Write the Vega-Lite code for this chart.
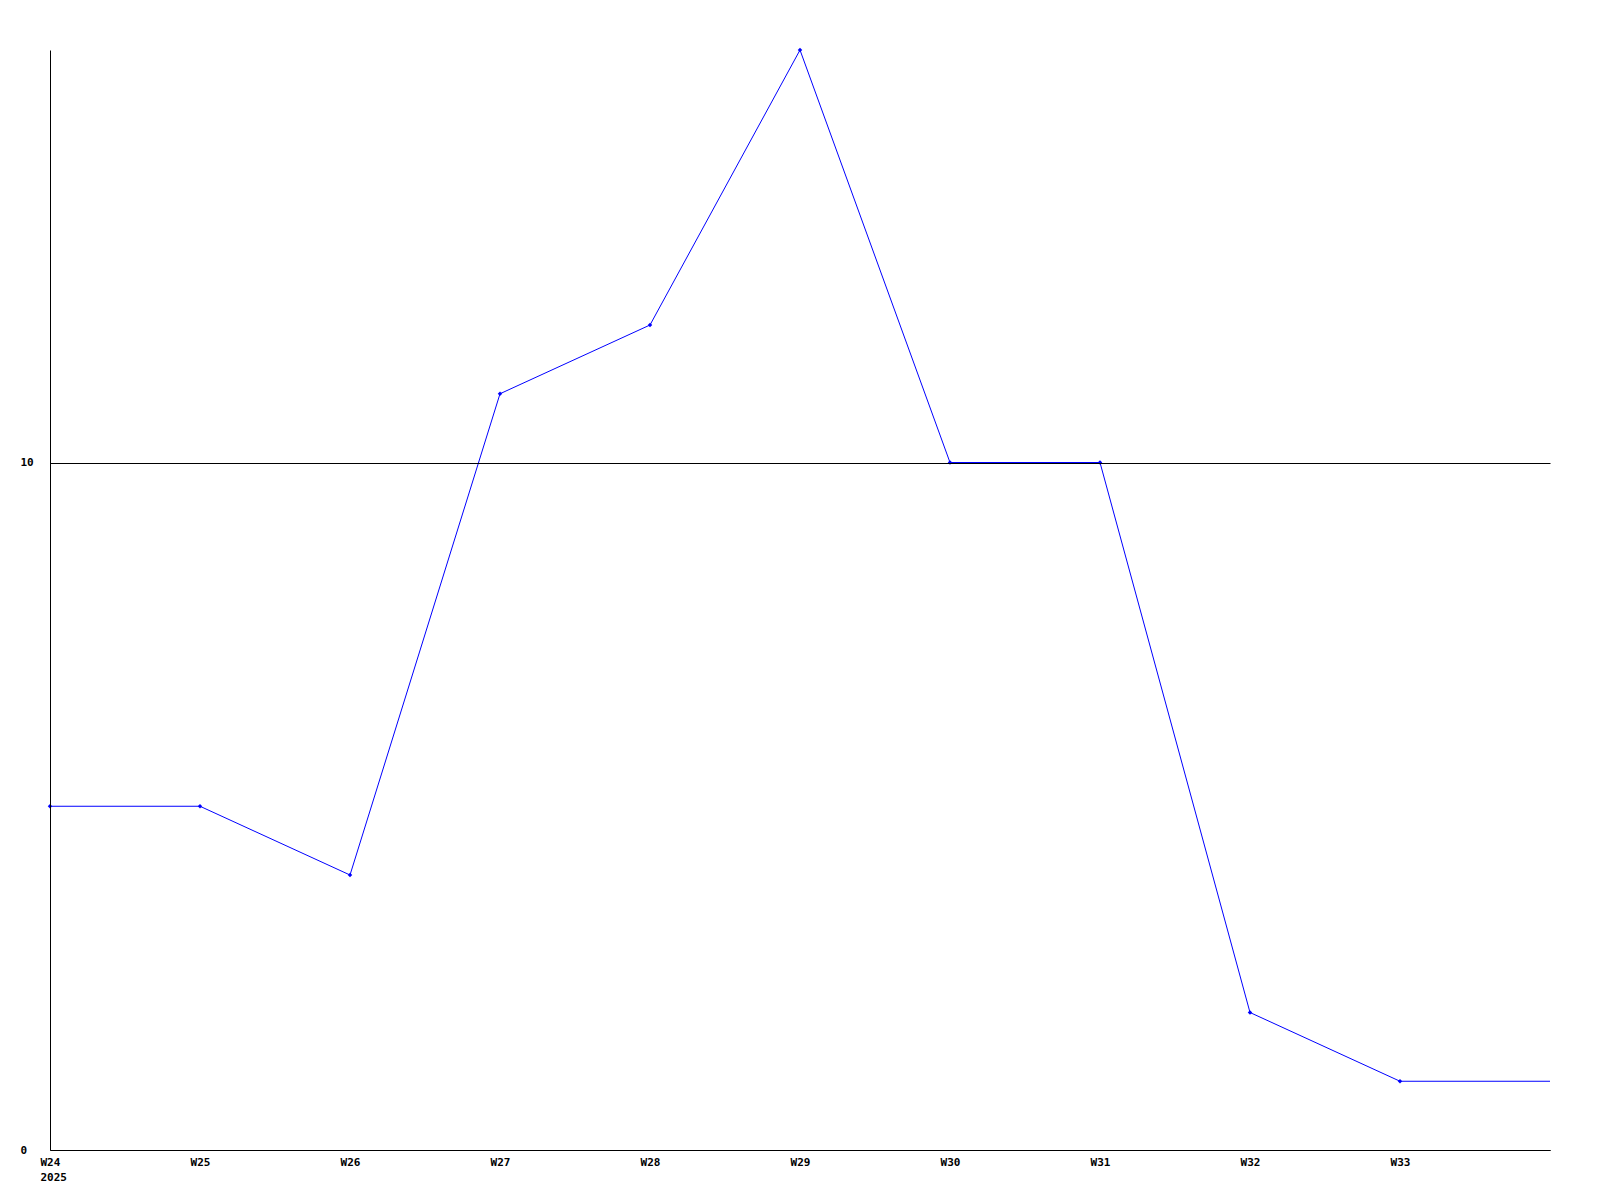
{
  "$schema": "https://vega.github.io/schema/vega-lite/v6.json",
  "width": 1500,
  "height": 1100,
  "autosize": {"type": "none"},
  "padding": {"left": 50, "top": 50, "right": 50, "bottom": 50},
  "background": "white",
  "config": {
    "view": {"stroke": null},
    "axis": {
      "labelFont": "DejaVu Sans Mono",
      "labelFontWeight": "bold",
      "labelFontSize": 11,
      "labelColor": "black",
      "domainColor": "black",
      "domainWidth": 1,
      "ticks": false,
      "title": null
    }
  },
  "data": {
    "values": [
      {"week": 24, "value": 5},
      {"week": 25, "value": 5},
      {"week": 26, "value": 4},
      {"week": 27, "value": 11},
      {"week": 28, "value": 12},
      {"week": 29, "value": 16},
      {"week": 30, "value": 10},
      {"week": 31, "value": 10},
      {"week": 32, "value": 2},
      {"week": 33, "value": 1},
      {"week": 34, "value": 1}
    ]
  },
  "encoding": {
    "x": {
      "field": "week",
      "type": "quantitative",
      "scale": {"domain": [24, 34], "nice": false, "zero": false},
      "axis": {
        "values": [24, 25, 26, 27, 28, 29, 30, 31, 32, 33],
        "labelExpr": "datum.value == 24 ? ['W24', '2025'] : 'W' + datum.value",
        "labelLineHeight": 15,
        "labelPadding": 6,
        "labelAlign": {"expr": "datum.value == 24 ? 'left' : 'center'"},
        "labelOffset": {"expr": "datum.value == 24 ? -10 : 0"},
        "labelBaseline": "top",
        "grid": false,
        "labelOverlap": false,
        "labelFlush": false
      }
    },
    "y": {
      "field": "value",
      "type": "quantitative",
      "scale": {"domain": [0, 16], "nice": false},
      "axis": {
        "values": [0, 10],
        "grid": true,
        "gridColor": "black",
        "gridOpacity": 1,
        "gridWidth": 1,
        "labelAlign": "left",
        "labelBaseline": "middle",
        "labelPadding": 30,
        "labelFlush": false,
        "zindex": 1
      }
    }
  },
  "layer": [
    {
      "mark": {"type": "line", "color": "#0000ff", "strokeWidth": 1}
    },
    {
      "transform": [{"filter": "datum.week < 34"}],
      "mark": {"type": "point", "shape": "diamond", "filled": true, "color": "#0000ff", "size": 20, "opacity": 1}
    }
  ]
}
